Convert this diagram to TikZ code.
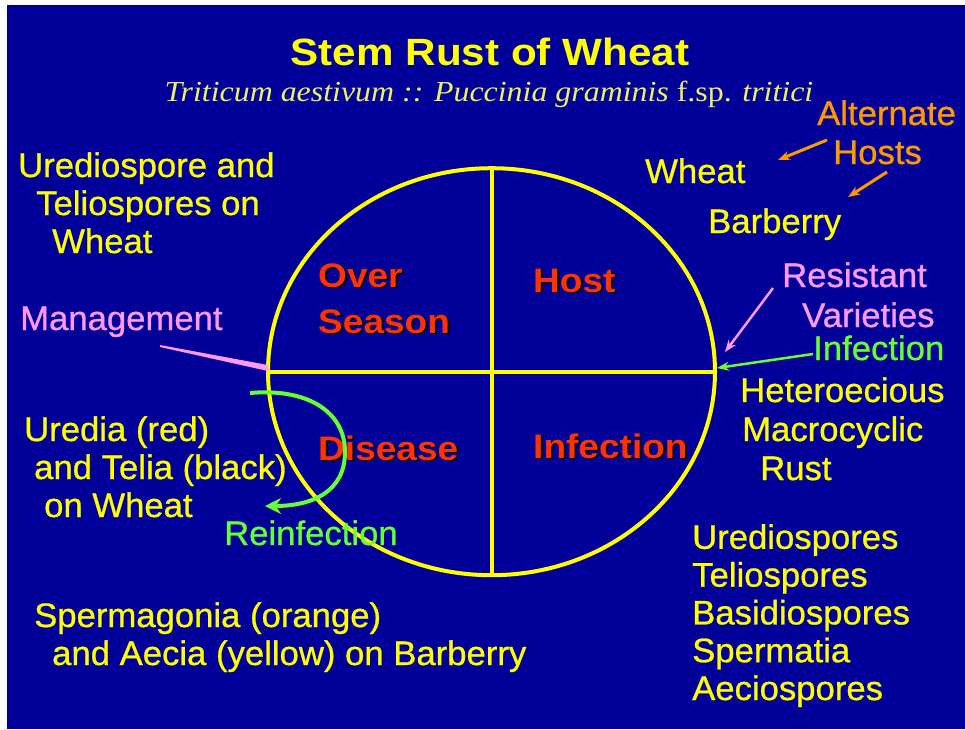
\documentclass[tikz,border=0pt]{standalone}
\usepackage{fontspec}
\setmainfont{Liberation Sans}
\newfontfamily\labf[FakeStretch=1.02,FakeBold=0.8]{Liberation Sans}
\newfontfamily\quadf[FakeStretch=1.09]{Liberation Sans Bold}
\newfontfamily\titlef[FakeStretch=1.11]{Liberation Sans Bold}
\newfontfamily\subf[FakeStretch=1.1]{Liberation Serif}
\usetikzlibrary{shapes.geometric,arrows.meta,calc}
\definecolor{bg}{HTML}{000099}
\definecolor{ylw}{HTML}{FFFF00}
\definecolor{org}{HTML}{FF9900}
\definecolor{pnk}{HTML}{FF99FF}
\definecolor{grn}{HTML}{66FF33}
\definecolor{qred}{HTML}{FF3300}
\definecolor{suby}{HTML}{F0F060}
\newcommand\qshadow[1]{\rlap{\kern1.8pt\raisebox{-1.8pt}{\color{black}#1}}#1}
\begin{document}
\begin{tikzpicture}[x=1pt,y=-1pt,
  lab/.style={inner sep=0pt, anchor=base west, align=left, text=ylw,
    font=\labf\fontsize{34}{38}\selectfont},
  quad/.style={inner sep=0pt, anchor=base west, align=left, text=qred,
    font=\quadf\fontsize{34}{46}\selectfont},
  wheelline/.style={draw=ylw, line width=4pt},
  pointer/.style={line width=2.5pt, -{Stealth[length=12pt,width=9pt]}}]
\fill[white] (0,0) rectangle (965,729);
\fill[bg] (7,5) rectangle (965,729);
\useasboundingbox (0,0) rectangle (965,729);

% title
\node[inner sep=0pt, anchor=base, text=ylw, font=\titlef\fontsize{38}{40}\selectfont]
  (title) at (490,65) {Stem Rust of Wheat};
\node[inner sep=0pt, anchor=base, text=suby, font=\subf\fontsize{29}{30}\selectfont]
  (sub) at (489,101) {\itshape Triticum aestivum :: Puccinia graminis \upshape f.sp. \itshape tritici};

% wheel
\node[wheelline, ellipse, minimum width=447pt, minimum height=407pt, inner sep=0pt]
  (wheel) at (491.5,371.7) {};
\draw[wheelline] (wheel.north) -- (wheel.south);
\draw[wheelline] (wheel.west) -- (wheel.east);

% quadrant labels (anchor = baseline of last line)
\node[quad] (over) at (318,333) {\qshadow{Over}\\\qshadow{Season}};
\node[quad] (host) at (533,292) {\qshadow{Host}};
\node[quad] (disease) at (318,460) {\qshadow{Disease}};
\node[quad] (infq) at (533,458) {\qshadow{Infection}};

% left texts
\node[lab] (ured) at (18,253) {Urediospore and\\\hspace*{18pt}Teliospores on\\\hspace*{34pt}Wheat};
\node[lab, text=pnk] (mgmt) at (20,330) {Management};
\node[lab] (uredia) at (24,517) {Uredia (red)\\\hspace*{10pt}and Telia (black)\\\hspace*{20pt}on Wheat};
\node[lab, text=grn] (reinf) at (224,545) {Reinfection};
\node[lab] (sperm) at (34,665) {Spermagonia (orange)\\\hspace*{18pt}and Aecia (yellow) on Barberry};

% right texts
\node[lab, text=org, font=\labf\fontsize{34}{39}\selectfont] (alt) at (817,164) {Alternate\\\hspace*{16pt}Hosts};
\node[lab] (wheat) at (645,183) {Wheat};
\node[lab] (barb) at (708,233) {Barberry};
\node[lab, text=pnk, font=\labf\fontsize{34}{40}\selectfont] (resist) at (782,327) {Resistant\\\hspace*{20pt}Varieties};
\node[lab, text=grn] (infl) at (813,360) {Infection};
\node[lab, font=\labf\fontsize{34}{39}\selectfont] (het) at (740,480) {Heteroecious\\\hspace*{2pt}Macrocyclic\\\hspace*{20pt}Rust};
\node[lab, font=\labf\fontsize{34}{37.8}\selectfont] (spores) at (692,700) {Urediospores\\Teliospores\\Basidiospores\\Spermatia\\Aeciospores};

% connectors
\coordinate (mgS) at (160,345);
\coordinate (mgE) at (268,368);
\fill[pnk] (mgS) -- ($(mgE)+(0,-3)$) -- ($(mgE)+(0,3)$) -- ($(mgS)+(0,2)$) -- cycle;

\coordinate (resS) at (773,288);
\coordinate (resE) at (725,352);
\draw[pointer, pnk] (resS) -- (resE);

\coordinate (infS) at (813,354);
\coordinate (infE) at (717,368);
\draw[pointer, grn] (infS) -- (infE);

\coordinate (o1S) at (827,140);
\coordinate (o1E) at (778,160);
\coordinate (o2S) at (887,172);
\coordinate (o2E) at (848,197);
\draw[pointer, org, line width=3pt] (o1S) -- (o1E);
\draw[pointer, org, line width=3pt] (o2S) -- (o2E);

\coordinate (loopS) at (250,393);
\coordinate (loopE) at (265,506);
\draw[grn, line width=4pt, -{Stealth[length=16pt,width=16pt]}]
  (loopS) .. controls (305,388) and (345,410) .. (345,452)
  .. controls (345,492) and (312,506) .. (loopE);
\end{tikzpicture}
\end{document}
